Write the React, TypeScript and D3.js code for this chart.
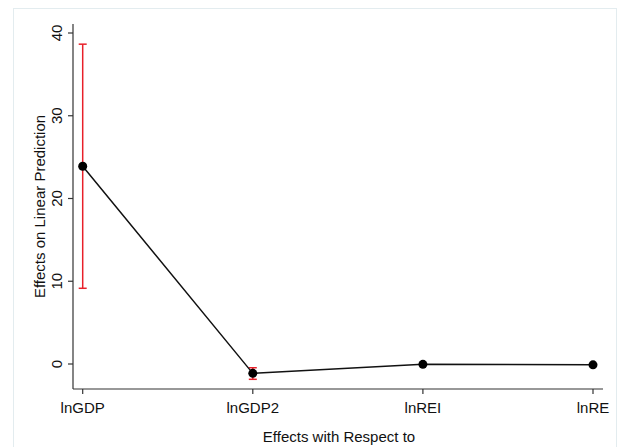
import React from "react";
import * as d3 from "d3";

const categories = ["lnGDP", "lnGDP2", "lnREI", "lnRE"];
const estimates = [23.9, -1.13, -0.04, -0.1];
const lowerCI = [9.15, -1.85, -0.06, -0.12];
const upperCI = [38.65, -0.45, -0.02, -0.08];
const yTicks = [0, 10, 20, 30, 40];

const W = 619, H = 447;
const font = "'Liberation Sans', Arial, sans-serif";

export default function App() {
  const x = d3.scalePoint<string>().domain(categories).range([82.7, 593]);
  const y = d3.scaleLinear().domain([0, 40]).range([364, 33]);
  const axisLeft = 73, axisBottom = 389, axisTop = 24, axisRight = 603;
  const line = d3.line<number>().x((_, i) => x(categories[i])!).y((d) => y(d));
  const showCI = [true, true, false, false];
  return (
    <svg width={W} height={H} style={{ position: "absolute", left: 0, top: 0, background: "#fff" }}>
      <rect x={13.5} y={8.5} width={603} height={460} fill="#fff" stroke="#e3ecef" strokeWidth={1} />
      {/* axes */}
      <line x1={axisLeft} x2={axisLeft} y1={axisTop} y2={axisBottom} stroke="#333" strokeWidth={1.2} />
      <line x1={axisLeft} x2={axisRight} y1={axisBottom} y2={axisBottom} stroke="#333" strokeWidth={1.2} />
      {yTicks.map((t) => (
        <g key={t}>
          <line x1={axisLeft - 5} x2={axisLeft} y1={y(t)} y2={y(t)} stroke="#333" strokeWidth={1.2} />
          <text transform={`translate(${62},${y(t)}) rotate(-90)`} textAnchor="middle" fontFamily={font} fontSize={15} fill="#111">{t}</text>
        </g>
      ))}
      {categories.map((c) => (
        <g key={c}>
          <line x1={x(c)} x2={x(c)} y1={axisBottom} y2={axisBottom + 5} stroke="#333" strokeWidth={1.2} />
          <text x={x(c)} y={413} textAnchor="middle" fontFamily={font} fontSize={15} fill="#111">{c}</text>
        </g>
      ))}
      <text x={339} y={442} textAnchor="middle" fontFamily={font} fontSize={15} fill="#111">Effects with Respect to</text>
      <text transform={`translate(45,${(axisTop + axisBottom) / 2}) rotate(-90)`} textAnchor="middle" fontFamily={font} fontSize={15} fill="#111">Effects on Linear Prediction</text>
      {/* CI */}
      {categories.map((c, i) => showCI[i] && (
        <g key={c} stroke="#e8202a" strokeWidth={1.5}>
          <line x1={x(c)} x2={x(c)} y1={y(lowerCI[i])} y2={y(upperCI[i])} />
          <line x1={x(c)! - 4} x2={x(c)! + 4} y1={y(lowerCI[i])} y2={y(lowerCI[i])} />
          <line x1={x(c)! - 4} x2={x(c)! + 4} y1={y(upperCI[i])} y2={y(upperCI[i])} />
        </g>
      ))}
      <path d={line(estimates)!} fill="none" stroke="#111" strokeWidth={1.5} />
      {estimates.map((v, i) => (
        <circle key={i} cx={x(categories[i])} cy={y(v)} r={4.5} fill="#000" />
      ))}
    </svg>
  );
}
